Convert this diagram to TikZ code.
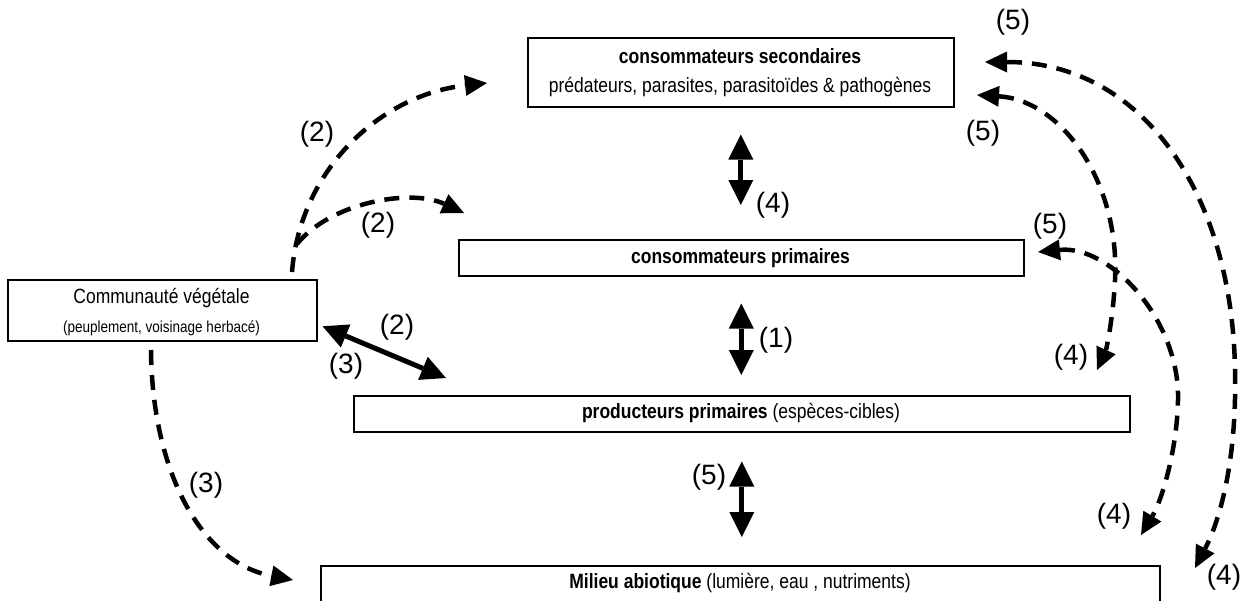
\documentclass[tikz,border=0pt]{standalone}
\usepackage{fontspec}
\usepackage{graphicx}
\setmainfont{Liberation Sans}
\usetikzlibrary{arrows.meta}
\newcommand{\ystr}[1]{\scalebox{1}[1.18]{#1}}
\tikzset{
  box/.style={draw,line width=1.6pt,rectangle,inner sep=0pt,anchor=north west},
  btext/.style={font=\fontsize{17.5}{20}\selectfont,inner sep=0pt},
  stext/.style={font=\fontsize{13.5}{16}\selectfont,inner sep=0pt},
  lab/.style={font=\fontsize{28}{30}\selectfont,inner sep=0pt},
  biarrow/.style={line width=5pt,
    {Triangle[length=25pt,width=25pt,line width=0pt]}-{Triangle[length=25pt,width=25pt,line width=0pt]}},
  dasharrow/.style={line width=4.5pt,dash pattern=on 15pt off 10pt,
    {Triangle[length=22pt,width=21pt,line width=0pt]}-{Triangle[length=22pt,width=21pt,line width=0pt]}},
  dasharrowone/.style={line width=4.5pt,dash pattern=on 15pt off 10pt,
    -{Triangle[length=22pt,width=21pt,line width=0pt]}}
}
\begin{document}
\begin{tikzpicture}[x=1pt,y=-1pt]
\useasboundingbox (0,0) rectangle (1249,600);

% boxes
\node[box,minimum width=426pt,minimum height=69pt] (sec) at (527,37) {};
\node[btext] (sect1) at (740,56) {\ystr{\textbf{consommateurs secondaires}}};
\node[btext] (sect2) at (740,87) {\ystr{prédateurs, parasites, parasitoïdes \& pathogènes}};

\node[box,minimum width=565pt,minimum height=36pt] (prim) at (458,239) {};
\node[btext] (primt) at (740.5,258) {\ystr{\textbf{consommateurs primaires}}};

\node[box,minimum width=309pt,minimum height=61pt] (comm) at (7,279) {};
\node[btext] (commt1) at (161.5,298) {\ystr{Communauté végétale}};
\node[stext] (commt2) at (161.5,328) {\ystr{(peuplement, voisinage herbacé)}};

\node[box,minimum width=776pt,minimum height=36pt] (prod) at (353,395) {};
\node[btext] (prodt) at (741,413) {\ystr{\textbf{producteurs primaires} (espèces-cibles)}};

\node[box,minimum width=839pt,minimum height=60pt] (mil) at (320,565) {};
\node[btext] (milt) at (740,583) {\ystr{\textbf{Milieu abiotique} (lumière, eau , nutriments)}};

% solid double arrows
\draw[biarrow,shorten <=27pt,shorten >=34pt] (sec.south) -- (sec.south |- prim.north);
\draw[biarrow,shorten <=27pt,shorten >=20pt] (prim.south) -- (prim.south |- prod.north);
\draw[biarrow,shorten <=29pt,shorten >=28pt] (prod.south) -- (prod.south |- mil.north);
\draw[biarrow] ([shift={(5,16)}]comm.east) -- ([shift={(93,-17)}]prod.north west);

% dashed connectors, left
\coordinate (c1s) at (292,272);
\coordinate (c1e) at (487,83);
\coordinate (c2s) at (297,244);
\coordinate (c2e) at (464,213);
\coordinate (c3s) at (151,350);
\coordinate (c3e) at (293,580);
\draw[dasharrowone] (c1s) .. controls (300,170) and (380,95) .. (c1e);
\draw[dasharrowone] (c2s) .. controls (330,203) and (410,188) .. (c2e);
\draw[dasharrowone] (c3s) .. controls (152,470) and (200,562) .. (c3e);

% dashed connectors, right
\coordinate (r1a) at (985,62);
\coordinate (r1m) at (1235,370);
\coordinate (r1b) at (1195,568);
\draw[dasharrow] (r1a) .. controls (1140,62) and (1232,190) .. (r1m)
  .. controls (1237,460) and (1220,520) .. (r1b);
\coordinate (r2a) at (977,95);
\coordinate (r2m) at (1115,280);
\coordinate (r2b) at (1097,370);
\draw[dasharrow] (r2a) .. controls (1060,100) and (1120,180) .. (r2m)
  .. controls (1113,320) and (1106,350) .. (r2b);
\coordinate (r3a) at (1038,252);
\coordinate (r3m) at (1178,400);
\coordinate (r3b) at (1141,535);
\draw[dasharrow] (r3a) .. controls (1110,245) and (1180,320) .. (r3m)
  .. controls (1177,450) and (1162,500) .. (r3b);

% labels
\node[lab] (l1) at (1013,22) {(5)};
\node[lab] (l2) at (983,133) {(5)};
\node[lab] (l3) at (1050,226) {(5)};
\node[lab] (l4) at (1071,357) {(4)};
\node[lab] (l5) at (1114,516) {(4)};
\node[lab] (l6) at (1224,577) {(4)};
\node[lab] (l7) at (317,134) {(2)};
\node[lab] (l8) at (378,225) {(2)};
\node[lab] (l9) at (773,205) {(4)};
\node[lab] (l10) at (776,340) {(1)};
\node[lab] (l11) at (397,327) {(2)};
\node[lab] (l12) at (346,366) {(3)};
\node[lab] (l13) at (709,477) {(5)};
\node[lab] (l14) at (206,485) {(3)};
\end{tikzpicture}
\end{document}
